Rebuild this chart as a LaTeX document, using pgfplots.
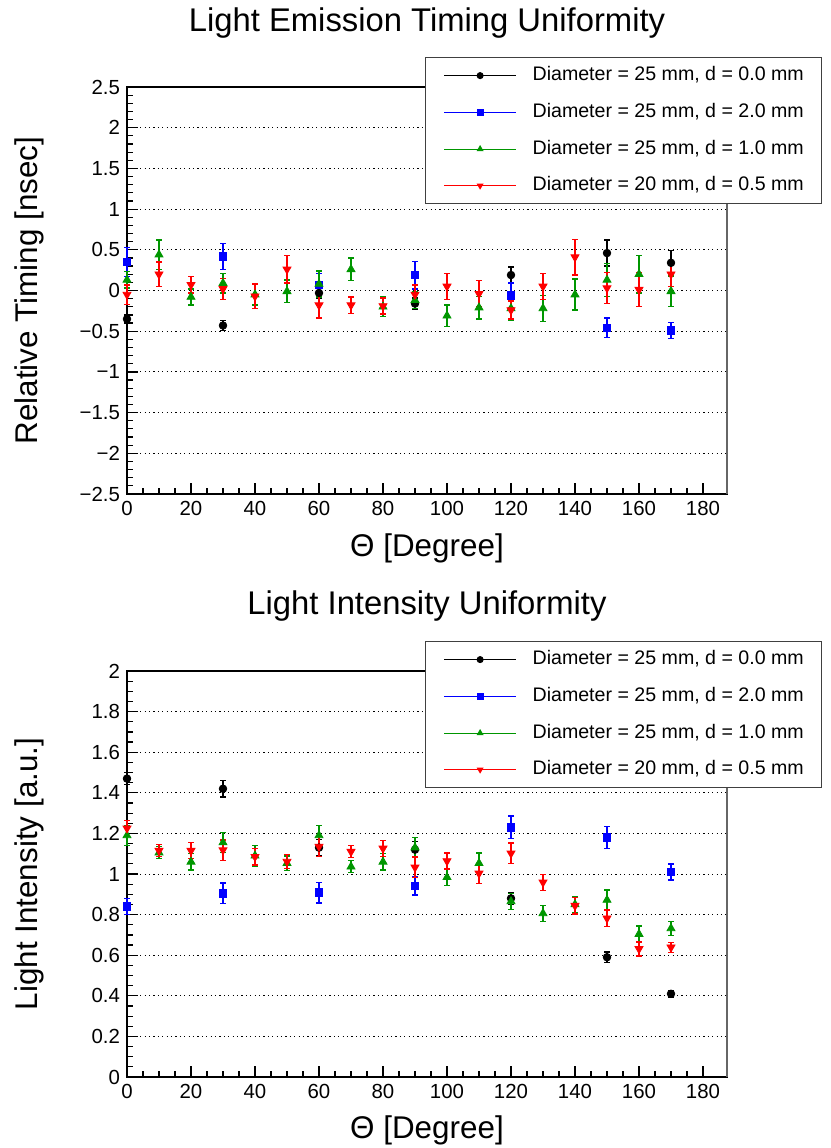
\documentclass[border=0pt]{standalone}
\usepackage{fontspec}
\setmainfont{Liberation Sans}
\usepackage{pgfplots}
\pgfplotsset{compat=1.18}

\definecolor{rblack}{RGB}{0,0,0}
\definecolor{rblue}{RGB}{0,0,255}
\definecolor{rgreen}{RGB}{0,150,0}
\definecolor{rred}{RGB}{255,0,0}

\pgfplotsset{
  every axis title/.style={at={(0.5,1)}, anchor=base, font=\fontsize{16.4}{19}\selectfont},
  rootframe/.style={
    scale only axis,
    width=300pt,
    xmin=0, xmax=187.5,
    xtick={0,20,...,180},
    minor x tick num=3,
    xtick pos=left, ytick pos=left,
    tick align=inside,
    major tick length=5.5pt,
    minor tick length=3pt,
    tick style={black, line width=0.6pt},
    axis line style={line width=0.8pt},
    /pgf/number format/assume math mode=true,
    tick label style={font=\fontsize{10.2}{12}\selectfont},
    label style={font=\fontsize{15.7}{18}\selectfont},
    ymajorgrids=true,
    grid style={black, line width=0.5pt, dash pattern=on 0.6pt off 1.6pt},
    clip=false,
    legend cell align=left,
    legend style={
      anchor=north west, draw=black!75, line width=0.6pt, fill=white,
      inner xsep=9pt, inner ysep=4.5pt, row sep=9.35pt,
      font=\fontsize{9.8}{11}\selectfont,
      nodes={inner sep=0pt, text height=7pt, text depth=2pt},
      /tikz/every odd column/.append style={column sep=8pt},
    },
    legend image code/.code={
      \draw[sharp plot, mark repeat=2, mark phase=2, mark size=1.5pt, line width=0.5pt]
        plot coordinates {(0pt,0pt) (18pt,0pt) (36pt,0pt)};
    },
    xlabel={Θ [Degree]},
  },
  errs/.style={
    only marks,
    error bars/.cd, y dir=both, y explicit,
    error bar style={line width=0.7pt},
    error mark options={rotate=90, mark size=1.3pt, line width=0.7pt},
  },
}

\begin{document}
\begin{tikzpicture}
\useasboundingbox (0,0) rectangle (415.5pt,-574pt);

% ---------------- timing ----------------
\begin{axis}[
  rootframe,
  at={(63.5pt,-247pt)}, anchor=south west,
  height=203.5pt,
  ymin=-2.5, ymax=2.5,
  ytick={-2.5,-2,...,2.5},
  yticklabels={−2.5,−2,−1.5,−1,−0.5,0,0.5,1,1.5,2,2.5},
  minor y tick num=4,
  ylabel={Relative Timing [nsec]},
  ylabel style={at={(axis description cs:-0.163,0.5)}, anchor=center},
  xlabel style={at={(axis description cs:0.5,-0.1327)}, anchor=center},
  title={Light Emission Timing Uniformity},
  title style={at={(axis description cs:0.5,1.1376)}},
  legend style={at={(axis description cs:0.4967,1.0737)}},
]
\addplot[color=rblack, mark=*, mark size=1.9pt, errs] table[x=x, y=y, y error=e] {
x y e
0 -0.35 0.05
30 -0.43 0.06
60 -0.03 0.07
90 -0.16 0.07
120 0.19 0.10
150 0.46 0.16
170 0.34 0.15
};
\addlegendentry{Diameter = 25 mm, d = 0.0 mm}
\addplot[color=rblue, mark=square*, mark size=1.9pt, errs] table[x=x, y=y, y error=e] {
x y e
0 0.35 0.18
30 0.42 0.16
60 0.07 0.14
90 0.19 0.17
120 -0.06 0.15
150 -0.46 0.12
170 -0.49 0.10
};
\addlegendentry{Diameter = 25 mm, d = 2.0 mm}
\addplot[color=rgreen, mark=triangle*, mark size=2.3pt, errs] table[x=x, y=y, y error=e] {
x y e
0 0.13 0.10
10 0.44 0.18
20 -0.08 0.10
30 0.09 0.12
40 -0.05 0.13
50 -0.01 0.14
60 0.08 0.16
70 0.26 0.14
80 -0.20 0.12
90 -0.12 0.10
100 -0.31 0.13
110 -0.21 0.14
120 -0.22 0.14
130 -0.22 0.16
140 -0.05 0.19
150 0.13 0.20
160 0.20 0.23
170 -0.01 0.19
};
\addlegendentry{Diameter = 25 mm, d = 1.0 mm}
\addplot[color=rred, mark=triangle*, mark size=2.3pt, mark options={rotate=180}, errs] table[x=x, y=y, y error=e] {
x y e
0 -0.05 0.12
10 0.20 0.15
20 0.07 0.10
30 0.02 0.13
40 -0.07 0.15
50 0.26 0.17
60 -0.18 0.16
70 -0.18 0.10
80 -0.19 0.10
90 -0.05 0.12
100 0.05 0.16
110 -0.04 0.16
120 -0.24 0.11
130 0.05 0.16
140 0.41 0.22
150 0.03 0.19
160 0.01 0.21
170 0.20 0.15
};
\addlegendentry{Diameter = 20 mm, d = 0.5 mm}
\draw[black!60, line width=1.1pt] (rel axis cs:1,0) -- (rel axis cs:1,1);
\end{axis}

% ---------------- intensity ----------------
\begin{axis}[
  rootframe,
  at={(63.5pt,-538.5pt)}, anchor=south west,
  height=203pt,
  ymin=0, ymax=2,
  ytick={0,0.2,...,2},
  yticklabels={0,0.2,0.4,0.6,0.8,1,1.2,1.4,1.6,1.8,2},
  minor y tick num=3,
  ylabel={Light Intensity [a.u.]},
  ylabel style={at={(axis description cs:-0.163,0.5)}, anchor=center},
  xlabel style={at={(axis description cs:0.5,-0.1305)}, anchor=center},
  title={Light Intensity Uniformity},
  title style={at={(axis description cs:0.5,1.138)}},
  legend style={at={(axis description cs:0.4967,1.0739)}},
]
\addplot[color=rblack, mark=*, mark size=1.9pt, errs] table[x=x, y=y, y error=e] {
x y e
0 1.47 0.03
30 1.42 0.04
60 1.13 0.04
90 1.12 0.04
120 0.88 0.03
150 0.59 0.025
170 0.41 0.015
};
\addlegendentry{Diameter = 25 mm, d = 0.0 mm}
\addplot[color=rblue, mark=square*, mark size=1.9pt, errs] table[x=x, y=y, y error=e] {
x y e
0 0.84 0.04
30 0.905 0.05
60 0.908 0.05
90 0.942 0.045
120 1.23 0.055
150 1.18 0.055
170 1.01 0.04
};
\addlegendentry{Diameter = 25 mm, d = 2.0 mm}
\addplot[color=rgreen, mark=triangle*, mark size=2.3pt, errs] table[x=x, y=y, y error=e] {
x y e
0 1.19 0.05
10 1.105 0.03
20 1.06 0.04
30 1.155 0.05
40 1.09 0.05
50 1.053 0.035
60 1.19 0.05
70 1.036 0.03
80 1.06 0.04
90 1.13 0.05
100 0.984 0.04
110 1.053 0.05
120 0.865 0.04
130 0.806 0.04
140 0.85 0.04
150 0.872 0.05
160 0.704 0.04
170 0.732 0.035
};
\addlegendentry{Diameter = 25 mm, d = 1.0 mm}
\addplot[color=rred, mark=triangle*, mark size=2.3pt, mark options={rotate=180}, errs] table[x=x, y=y, y error=e] {
x y e
0 1.225 0.04
10 1.115 0.03
20 1.115 0.04
30 1.118 0.05
40 1.085 0.04
50 1.061 0.035
60 1.135 0.05
70 1.11 0.03
80 1.126 0.04
90 1.033 0.05
100 1.064 0.04
110 1.003 0.05
120 1.102 0.05
130 0.959 0.04
140 0.844 0.04
150 0.782 0.04
160 0.631 0.035
170 0.639 0.025
};
\addlegendentry{Diameter = 20 mm, d = 0.5 mm}
\draw[black!60, line width=1.1pt] (rel axis cs:1,0) -- (rel axis cs:1,1);
\end{axis}
\end{tikzpicture}
\end{document}
